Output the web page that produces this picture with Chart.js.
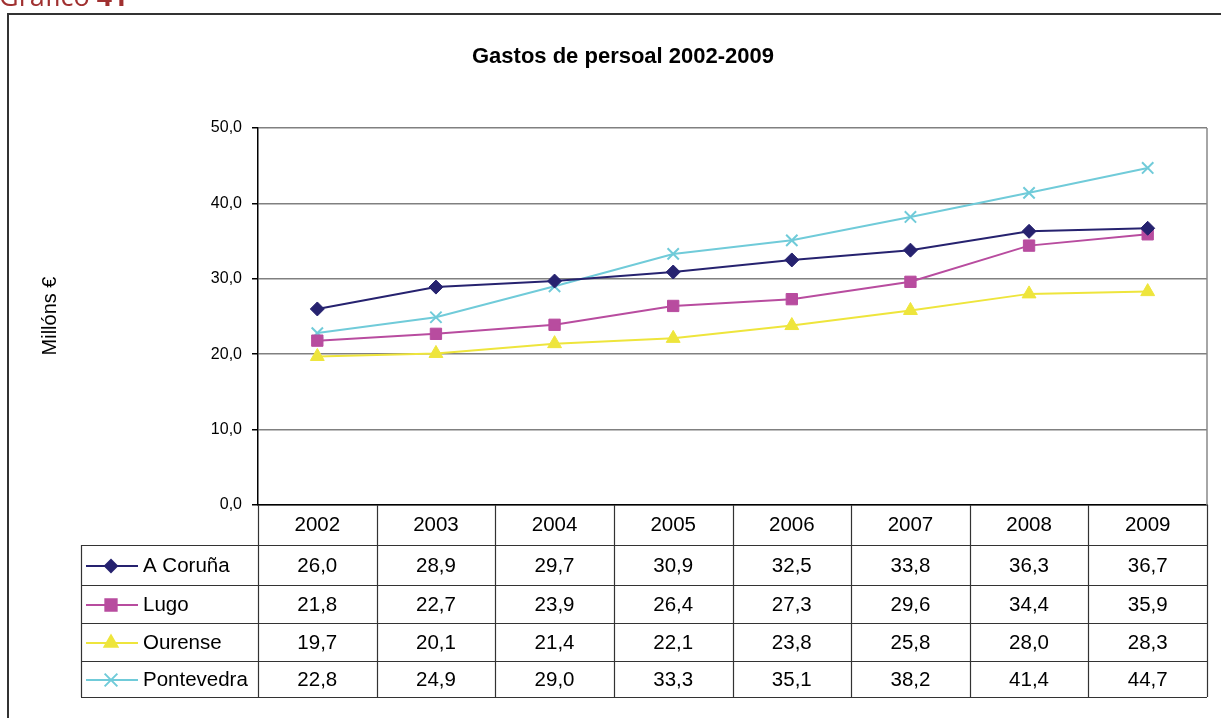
<!DOCTYPE html>
<html>
<head>
<meta charset="utf-8">
<script src="https://cdn.jsdelivr.net/npm/chart.js@4.4.0/dist/chart.umd.min.js"></script>
<style>
  html, body { margin: 0; padding: 0; background: #fff; }
  #wrap { position: relative; width: 1221px; height: 718px; overflow: hidden; }
  #caption { position: absolute; left: -1px; top: -23px; font-family: "Open Sans", "Liberation Sans", sans-serif;
    font-size: 27px; color: #a03030; white-space: nowrap; }
  #caption b { font-weight: bold; }
</style>
</head>
<body>
<div id="wrap">
  <canvas id="myChart" width="1221" height="718"></canvas>
  <div id="caption">Gráfico <b>41</b></div>
</div>
<script>
var years = ['2002','2003','2004','2005','2006','2007','2008','2009'];
var coruna = [26.0, 28.9, 29.7, 30.9, 32.5, 33.8, 36.3, 36.7];
var lugo = [21.8, 22.7, 23.9, 26.4, 27.3, 29.6, 34.4, 35.9];
var ourense = [19.7, 20.1, 21.4, 22.1, 23.8, 25.8, 28.0, 28.3];
var pontevedra = [22.8, 24.9, 29.0, 33.3, 35.1, 38.2, 41.4, 44.7];
var yTicks = [0, 10, 20, 30, 40, 50];

var FONT = '"Liberation Sans", Arial, sans-serif';

function fmt(v) {
    return v.toFixed(1).replace('.', ',');
}

// table under the plot, legend keys, title, frame
var tablePlugin = {
    id: 'tablePlugin',
    afterDraw: function(chart) {
        var c = chart.ctx;
        var area = chart.chartArea;
        var xs = chart.scales.x;
        var colW = (area.right - area.left) / years.length;
        var headTop = area.bottom;
        var rowTops = [545, 585, 623, 661, 697];
        var tableLeft = 81;

        c.save();
        // frame
        c.strokeStyle = '#333';
        c.lineWidth = 2;
        c.beginPath();
        c.moveTo(8, 718);
        c.lineTo(8, 14);
        c.lineTo(1221, 14);
        c.stroke();

        // title
        c.fillStyle = '#000';
        c.font = 'bold 22px ' + FONT;
        c.textAlign = 'center';
        c.textBaseline = 'middle';
        c.fillText('Gastos de persoal 2002-2009', 623, 57);

        // y axis label
        c.save();
        c.translate(50, 316);
        c.rotate(-Math.PI / 2);
        c.font = '20px ' + FONT;
        c.fillText('Millóns €', 0, 0);
        c.restore();

        // plot right border
        c.strokeStyle = '#888';
        c.lineWidth = 1.5;
        c.beginPath();
        c.moveTo(area.right, area.top);
        c.lineTo(area.right, area.bottom);
        c.stroke();

        // table lines
        c.strokeStyle = '#333';
        c.lineWidth = 1.2;
        c.beginPath();
        for (var i = 0; i <= years.length; i++) {
            var x = Math.round(area.left + i * colW) + 0.5;
            c.moveTo(x, headTop);
            c.lineTo(x, rowTops[4]);
        }
        c.moveTo(tableLeft + 0.5, rowTops[0]);
        c.lineTo(tableLeft + 0.5, rowTops[4]);
        for (var r = 0; r < rowTops.length; r++) {
            c.moveTo(tableLeft, rowTops[r] + 0.5);
            c.lineTo(area.right, rowTops[r] + 0.5);
        }
        c.stroke();

        // header years
        c.font = '20.5px ' + FONT;
        c.fillStyle = '#000';
        c.textAlign = 'center';
        years.forEach(function(y, i) {
            c.fillText(y, xs.getPixelForValue(i), (headTop + rowTops[0]) / 2);
        });

        // rows
        chart.data.datasets.forEach(function(ds, r) {
            var cy = (rowTops[r] + rowTops[r + 1]) / 2 + 1;
            c.textAlign = 'center';
            c.fillStyle = '#000';
            ds.data.forEach(function(v, i) {
                c.fillText(fmt(v), xs.getPixelForValue(i), cy);
            });
            // legend key
            c.strokeStyle = ds.borderColor;
            c.fillStyle = ds.borderColor;
            c.lineWidth = 2;
            c.beginPath();
            c.moveTo(86, cy);
            c.lineTo(138, cy);
            c.stroke();
            Chart.helpers.drawPoint(c, {
                pointStyle: ds.pointStyle,
                radius: ds.legendRadius,
                rotation: 0,
                borderWidth: ds.pointBorderWidth
            }, 111, cy);
            c.fillStyle = '#000';
            c.textAlign = 'left';
            c.fillText(ds.label, 143, cy);
        });
        c.restore();
    }
};

function series(label, data, color, style, radius, legendRadius) {
    return {
        label: label,
        data: data,
        borderColor: color,
        backgroundColor: color,
        pointBackgroundColor: color,
        pointBorderColor: color,
        pointStyle: style,
        pointRadius: radius,
        legendRadius: legendRadius,
        pointBorderWidth: style === 'crossRot' ? 2 : 1,
        borderWidth: 2,
        tension: 0
    };
}

var ctx = document.getElementById('myChart').getContext('2d');
var myChart = new Chart(ctx, {
    type: 'line',
    data: {
        labels: years,
        datasets: [
            series('A Coruña', coruna, '#26226f', 'rectRot', 7, 6),
            series('Lugo', lugo, '#b84c9f', 'rect', 8, 8),
            series('Ourense', ourense, '#eee53c', 'triangle', 8, 7.5),
            series('Pontevedra', pontevedra, '#70cbd9', 'crossRot', 8, 9)
        ]
    },
    options: {
        responsive: false,
        animation: false,
        events: [],
        layout: { padding: { top: 128, right: 14, left: 0, bottom: 0 } },
        plugins: { legend: { display: false }, title: { display: false }, tooltip: { enabled: false } },
        scales: {
            x: {
                offset: true,
                ticks: { display: false },
                grid: { display: false, drawTicks: false },
                border: { color: '#000', width: 1.5 },
                afterFit: function(s) { s.height = 213; }
            },
            y: {
                min: 0,
                max: 50,
                afterBuildTicks: function(s) { s.ticks = yTicks.map(function(v) { return { value: v }; }); },
                ticks: {
                    color: '#000',
                    padding: 10,
                    font: { family: FONT, size: 16 },
                    callback: function(v) { return fmt(v); }
                },
                grid: { color: '#808080', lineWidth: 1.5, tickLength: 6, tickColor: '#000' },
                border: { color: '#000', width: 1.5 },
                afterFit: function(s) { s.width = 258; }
            }
        }
    },
    plugins: [tablePlugin]
});
</script>
</body>
</html>
